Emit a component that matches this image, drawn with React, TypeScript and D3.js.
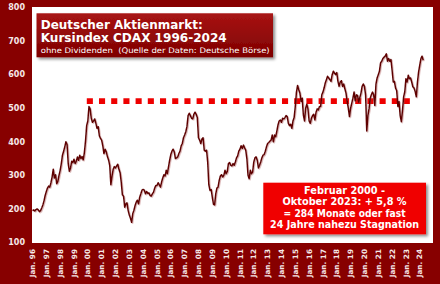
import React from "react";
import * as d3 from "d3";

// Monthly CDAX values, Jan 1996 .. Apr 2024
const cdaxMonthly: number[] = [
  // 1996
  195, 197, 194, 198, 200, 197, 192, 195, 203, 212, 224, 240,
  // 1997
  252, 262, 268, 265, 278, 295, 318, 292, 302, 275, 282, 300,
  // 1998
  315, 335, 360, 372, 385, 400, 392, 335, 312, 322, 342, 338,
  // 1999
  348, 335, 342, 355, 345, 360, 350, 356, 346, 368, 402, 448,
  // 2000
  462, 505, 498, 470, 458, 462, 468, 455, 440, 445, 418, 410,
  // 2001
  405, 388, 365, 378, 370, 356, 346, 330, 272, 298, 318, 326,
  // 2002
  322, 328, 333, 318, 308, 280, 242, 238, 205, 215, 218, 195,
  // 2003
  182, 172, 160, 186, 196, 210, 220, 226, 215, 235, 245, 256,
  // 2004
  258, 256, 245, 252, 246, 248, 240, 238, 245, 250, 262, 270,
  // 2005
  270, 278, 272, 265, 280, 292, 302, 298, 315, 305, 325, 345,
  // 2006
  362, 372, 378, 370, 350, 352, 355, 365, 372, 388, 395, 412,
  // 2007
  420, 430, 445, 478, 485, 478, 470, 468, 482, 488, 482, 472,
  // 2008
  412, 405, 395, 408, 412, 375, 372, 375, 340, 272, 255, 258,
  // 2009
  235, 214, 212, 245, 262, 265, 285, 298, 302, 295, 300, 315,
  // 2010
  305, 312, 335, 338, 330, 328, 335, 330, 340, 352, 358, 372,
  // 2011
  378, 388, 380, 390, 382, 375, 350, 300, 290, 315, 305, 310,
  // 2012
  340, 352, 355, 345, 322, 330, 340, 352, 360, 362, 372, 385,
  // 2013
  395, 398, 402, 405, 420, 400, 420, 415, 432, 450, 462, 465,
  // 2014
  458, 470, 468, 472, 478, 475, 455, 448, 452, 440, 462, 472,
  // 2015
  505, 548, 568, 555, 545, 520, 530, 480, 462, 500, 512, 498,
  // 2016
  462, 455, 470, 478, 482, 465, 488, 498, 495, 505, 505, 540,
  // 2017
  548, 560, 575, 585, 595, 590, 585, 580, 600, 610, 605, 600,
  // 2018
  606, 580, 565, 578, 582, 565, 572, 558, 545, 520, 500, 475,
  // 2019
  500, 515, 530, 548, 522, 540, 538, 518, 532, 545, 565, 572,
  // 2020
  565, 540, 432, 478, 498, 530, 540, 548, 540, 508, 572, 590,
  // 2021
  600, 610, 635, 640, 648, 652, 655, 662, 640, 648, 640, 645,
  // 2022
  613, 578, 580, 560, 552, 505, 520, 478, 460, 492, 534, 549,
  // 2023
  588, 578, 598, 588, 590, 578, 564, 560, 550, 534, 578, 608,
  // 2024
  628, 648, 655, 643,
];

const yearLabels: string[] = [
  "96", "97", "98", "99", "00", "01", "02", "03", "04", "05", "06", "07", "08", "09",
  "10", "11", "12", "13", "14", "15", "16", "17", "18", "19", "20", "21", "22", "23", "24",
];
const yTicks: number[] = [100, 200, 300, 400, 500, 600, 700, 800];

// Stagnation level line (month index start/end, value)
const stagnationStartMonth = 47.1;
const stagnationEndMonth = 327.4;
const stagnationLevel = 521;

const titleLines: string[] = ["Deutscher Aktienmarkt:", "Kursindex CDAX 1996-2024"];
const subtitle = "ohne Dividenden  (Quelle der Daten: Deutsche Börse)";
const noteLines: string[] = [
  "Februar 2000 -",
  "Oktober 2023: + 5,8 %",
  "= 284 Monate oder fast",
  "24 Jahre nahezu Stagnation",
];
const noteWidths: number[] = [81, 124, 122, 149];

const W = 440;
const H = 284;
const plot = { left: 32, top: 7, right: 433, bottom: 243 };

export default function App() {
  const x = d3.scaleLinear().domain([0, 348]).range([32.5, 433.6]);
  const y = d3.scaleLinear().domain([100, 800]).range([242.5, 7.5]);

  const line = d3
    .line<number>()
    .x((_, i) => x(i))
    .y((d) => y(d))
    .curve(d3.curveLinear);

  const bg = "#870000";
  const labelFill = "#f6e8e8";
  const font = "'DejaVu Sans', Verdana, sans-serif";

  return (
    <svg
      width={W}
      height={H}
      style={{ position: "absolute", left: 0, top: 0, display: "block" }}
    >
      <defs>
        <filter id="lineShadow" x="-5%" y="-5%" width="110%" height="110%">
          <feDropShadow dx="0.8" dy="0.8" stdDeviation="0.7" floodColor="#a04040" floodOpacity="0.45" />
        </filter>
        <filter id="boxShadow" x="-10%" y="-20%" width="120%" height="150%">
          <feDropShadow dx="2" dy="2" stdDeviation="1.5" floodColor="#000" floodOpacity="0.45" />
        </filter>
        <linearGradient id="titleGrad" x1="0" y1="0" x2="0" y2="1">
          <stop offset="0" stopColor="#a81414" />
          <stop offset="1" stopColor="#7e0000" />
        </linearGradient>
      </defs>

      <rect x={0} y={0} width={W} height={H} fill={bg} />
      <rect
        x={plot.left}
        y={plot.top}
        width={plot.right - plot.left}
        height={plot.bottom - plot.top}
        fill="#ffffff"
      />

      {/* y tick labels */}
      {yTicks.map((t) => (
        <text
          key={t}
          x={25}
          y={y(t)}
          dy="0.35em"
          textAnchor="end"
          fontFamily={font}
          fontWeight="bold"
          fontSize={8}
          fill={labelFill}
        >
          {t}
        </text>
      ))}

      {/* x tick labels */}
      {yearLabels.map((yl, i) => (
        <text
          key={yl}
          transform={`translate(${x(i * 12)},249) rotate(-90)`}
          dy="0.35em"
          textAnchor="end"
          fontFamily={font}
          fontWeight="bold"
          fontSize={7.3}
          fill={labelFill}
        >
          {`Jan. ${yl}`}
        </text>
      ))}

      {/* stagnation dotted line */}
      <line
        x1={x(stagnationStartMonth)}
        x2={x(stagnationEndMonth)}
        y1={y(stagnationLevel)}
        y2={y(stagnationLevel)}
        stroke="#ee0000"
        strokeWidth={5.6}
        strokeDasharray="6.1 6.1"
      />

      {/* CDAX line */}
      <path
        d={line(cdaxMonthly) || ""}
        fill="none"
        stroke="#5e0606"
        strokeWidth={1.5}
        strokeLinejoin="round"
        filter="url(#lineShadow)"
      />

      {/* Title box */}
      <rect x={36.5} y={13.3} width={236.5} height={44} fill="url(#titleGrad)" filter="url(#boxShadow)" />
      <text x={40.7} y={28.5} fontFamily={font} fontWeight="bold" fontSize={12.6} fill="#ffffff" textLength={162} lengthAdjust="spacingAndGlyphs">
        {titleLines[0]}
      </text>
      <text x={40.7} y={42.3} fontFamily={font} fontWeight="bold" fontSize={12.6} fill="#ffffff" textLength={186} lengthAdjust="spacingAndGlyphs">
        {titleLines[1]}
      </text>
      <text x={40.7} y={52.8} fontFamily={font} fontSize={7.6} fill="#ffffff" textLength={229} lengthAdjust="spacingAndGlyphs" style={{ whiteSpace: "pre" }}>
        {subtitle}
      </text>

      {/* Note box */}
      <rect x={263.3} y={182.7} width={162.7} height={51.6} fill="#f00000" filter="url(#boxShadow)" />
      {noteLines.map((t, i) => (
        <text
          key={i}
          x={344.6}
          y={194 + i * 11.4}
          textAnchor="middle"
          fontFamily={font}
          fontWeight="bold"
          fontSize={10}
          fill="#ffffff"
          textLength={noteWidths[i]}
          lengthAdjust="spacingAndGlyphs"
        >
          {t}
        </text>
      ))}
    </svg>
  );
}
